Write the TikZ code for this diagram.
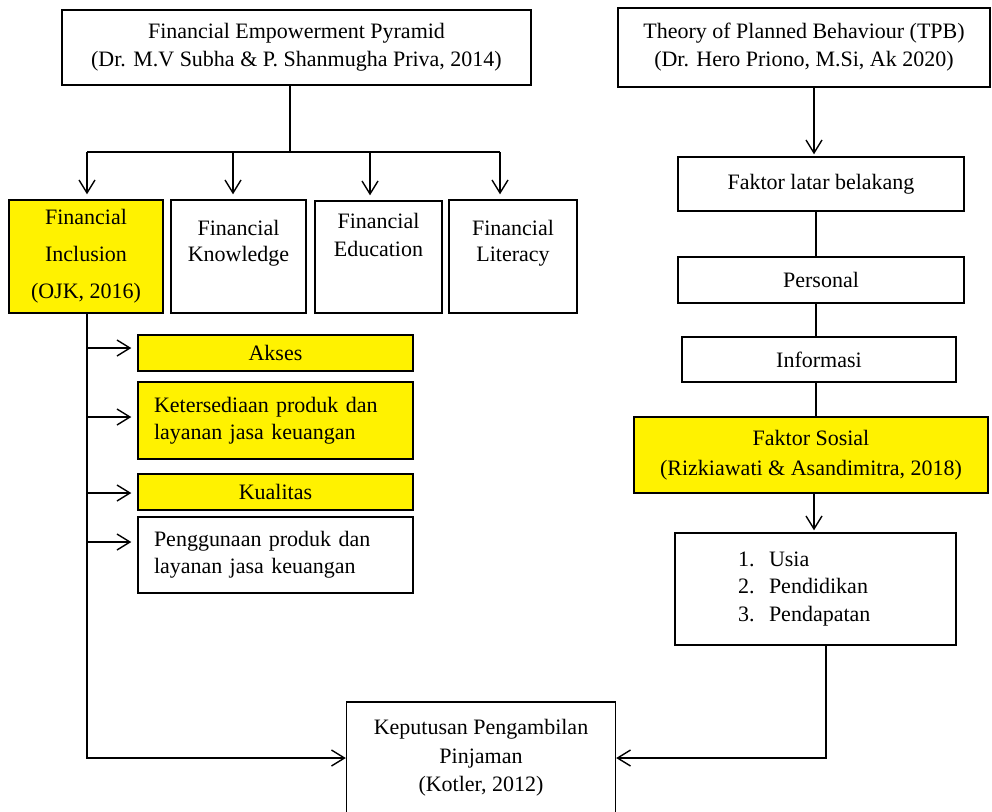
\documentclass[tikz,border=0pt]{standalone}
\usepackage{fontspec}
\setmainfont{Liberation Serif}
\usetikzlibrary{arrows.meta, positioning}
\newcommand{\lift}[2]{\raisebox{#1}[\height][\depth]{\begin{tabular}{@{}c@{}}#2\end{tabular}}}

\tikzset{
  box/.style={draw, line width=0.7pt, font=\fontsize{11}{14}\selectfont, align=center, inner sep=0pt},
  yelbox/.style={box, fill=yellow},
  link/.style={line width=0.7pt},
}

\begin{document}
\begin{tikzpicture}[x=0.5pt, y=-0.5pt, >={Straight Barb[length=6.5pt,width=8pt]}]
\useasboundingbox (0,0) rectangle (992,811);

% left side
\node[box, minimum width=234.5pt, minimum height=37.5pt] (fep) at (296.5,47.5) {Financial Empowerment Pyramid\\(Dr. M.V Subha \& P. Shanmugha Priva, 2014)};
\node[yelbox, minimum width=77pt, minimum height=56.5pt, font=\fontsize{11}{18.5}\selectfont] (fi) at (86,256.5) {Financial\\Inclusion\\(OJK, 2016)};
\node[box, minimum width=67.5pt, minimum height=56.5pt, font=\fontsize{11}{13}\selectfont] (fk) at (238.5,256.5) {\lift{6.75pt}{Financial\\Knowledge}};
\node[box, minimum width=63.5pt, minimum height=56pt] (fed) at (378.5,257) {\lift{10pt}{Financial\\Education}};
\node[box, minimum width=64pt, minimum height=56.5pt, font=\fontsize{11}{13}\selectfont] (fl) at (513,256.5) {\lift{6.75pt}{Financial\\Literacy}};

\node[yelbox, minimum width=137.5pt, minimum height=18pt] (akses) at (275.5,353) {Akses};
\node[yelbox, minimum width=137.5pt, minimum height=38.5pt, text width=121.5pt, inner xsep=8pt, align=left, font=\fontsize{11}{13.5}\selectfont] (sedia) at (275.5,420.5) {Ketersediaan produk dan\\layanan jasa keuangan};
\node[yelbox, minimum width=137.5pt, minimum height=18pt] (kual) at (275.5,492) {Kualitas};
\node[box, minimum width=137.5pt, minimum height=38pt, text width=121.5pt, inner xsep=8pt, align=left, font=\fontsize{11}{13.5}\selectfont] (guna) at (275.5,555) {Penggunaan produk dan\\layanan jasa keuangan};

% right side
\node[box, minimum width=186pt, minimum height=39.5pt] (tpb) at (804,47.5) {Theory of Planned Behaviour (TPB)\\(Dr. Hero Priono, M.Si, Ak 2020)};
\node[box, minimum width=143pt, minimum height=27pt] (flb) at (821,184) {Faktor latar belakang};
\node[box, minimum width=143pt, minimum height=23pt] (pers) at (821,280) {Personal};
\node[box, minimum width=137pt, minimum height=22.5pt] (info) at (819,359.5) {Informasi};
\node[yelbox, minimum width=177pt, minimum height=38pt, font=\fontsize{11}{15}\selectfont] (sosial) at (811,455) {Faktor Sosial\\(Rizkiawati \& Asandimitra, 2018)};
\node[box, minimum width=140.5pt, minimum height=56pt, text width=77.5pt, inner xsep=31.5pt, align=left, font=\fontsize{11}{13.75}\selectfont] (list) at (815.5,589) {\makebox[15.5pt][l]{1.}Usia\\\makebox[15.5pt][l]{2.}Pendidikan\\\makebox[15.5pt][l]{3.}Pendapatan};

% bottom
\node[box, minimum width=134.5pt, minimum height=56pt, font=\fontsize{11}{14.25}\selectfont] (kep) at (481,758) {Keputusan Pengambilan\\Pinjaman\\(Kotler, 2012)};

\coordinate (split) at (290,152);
\coordinate (t1) at (87,152);
\coordinate (t2) at (233,152);
\coordinate (t3) at (370,152);
\coordinate (t4) at (500,152);

\draw[link] (fep.south -| split) -- (split);
\draw[link] (t1) -- (t4);
\foreach \t/\b in {t1/fi, t2/fk, t3/fed, t4/fl}
  \draw[link, ->, shorten >=2.5pt] (\t) -- (\t |- \b.north);

\draw[link, ->] (fi.south -| t1) |- (kep.west);
\foreach \n/\s in {akses/2.5, sedia/1.75, kual/-0.5, guna/6.5}
  \draw[link, ->, shorten >=3pt] ([yshift=\s pt]\n.west -| t1) -- ([yshift=\s pt]\n.west);

\draw[link, ->, shorten >=1pt] ([xshift=5pt]tpb.south) -- ([xshift=5pt]tpb.south |- flb.north);
\draw[link] ([xshift=-2.5pt]flb.south) -- ([xshift=-2.5pt]flb.south |- pers.north);
\draw[link] ([xshift=-2.5pt]pers.south) -- ([xshift=-2.5pt]pers.south |- info.north);
\draw[link] ([xshift=-1.5pt]info.south) -- ([xshift=-1.5pt]info.south |- sosial.north);
\draw[link, ->, shorten >=1pt] ([xshift=1.5pt]sosial.south) -- ([xshift=1.5pt]sosial.south |- list.north);
\draw[link, ->] ([xshift=5.25pt]list.south) |- (kep.east);

\end{tikzpicture}
\end{document}
